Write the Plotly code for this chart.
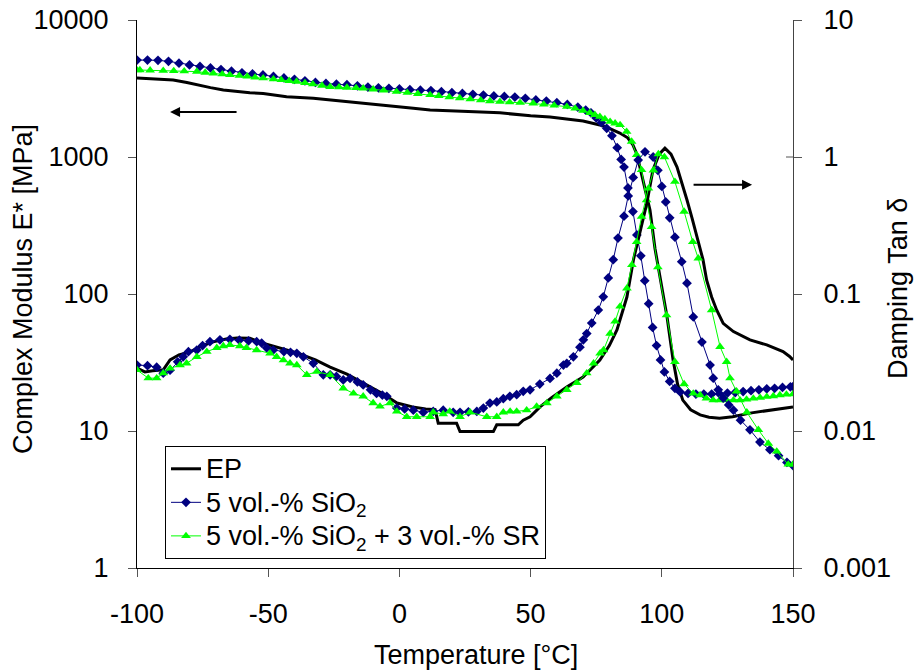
import math
import plotly.graph_objects as go

# ---------------- data ----------------
# EP: complex modulus [MPa]
ep_mod_T = [-100, -95, -90, -86.2, -81, -77.2, -72, -67.1, -62, -57, -51.9, -43, -32.8, -26.4, -20.1, -13.5,
            -7.4, 0, 5.3, 11.7, 25, 38.3, 50, 57.4, 70, 76.4, 80, 84, 87, 89, 90.5, 91.7, 93.5, 95.5,
            97.4, 100, 102, 104.3, 106, 108, 111, 114.6, 118, 122, 127, 133.6, 140, 145, 150]
ep_mod_v = [3775, 3740, 3700, 3650, 3500, 3357, 3210, 3085, 3000, 2950, 2910, 2750, 2680, 2610, 2535, 2470,
            2400, 2330, 2270, 2200, 2150, 2100, 2000, 1958, 1833, 1714, 1620, 1496, 1380, 1225, 1050,
            845, 620, 410, 215, 110, 68, 33, 22, 16.8, 14.3, 13.1, 12.6, 12.4, 12.7, 13.5, 14.0, 14.5, 15.0]

# EP: damping tan delta
ep_tan_T = [-100, -97, -94, -90, -87.4, -84, -79.8, -75, -71, -66, -61.9, -57, -52, -45, -39, -32, -26.4,
            -20, -13.9, -7, -0.9, 5, 10, 13.6, 14.8, 21.8, 23.1, 35.8, 37.1, 45.3, 47.2, 49.8, 53.6, 58,
            63.9, 70, 76.4, 80, 82.9, 86.7, 89.2, 91.7, 94.3, 96.6, 99, 101.2, 103.5, 105.8, 107.7, 109.6,
            111.5, 113.4, 115.7, 117.1, 119, 120.9, 123.4, 127.3, 133.6, 140, 146.2, 148.7, 150]
ep_tan_v = [0.0288, 0.027, 0.0275, 0.028, 0.033, 0.036, 0.0378, 0.042, 0.0447, 0.047, 0.0478, 0.0475,
            0.0438, 0.040, 0.0371, 0.033, 0.0293, 0.026, 0.0224, 0.019, 0.016, 0.015, 0.0145, 0.0143,
            0.0114, 0.0114, 0.0099, 0.0099, 0.0111, 0.0111, 0.012, 0.0127, 0.015, 0.0175, 0.021, 0.0248,
            0.033, 0.042, 0.0546, 0.095, 0.178, 0.277, 0.46, 0.80, 1.05, 1.16, 1.05, 0.845, 0.65, 0.485,
            0.36, 0.26, 0.178, 0.126, 0.095, 0.0764, 0.061, 0.0532, 0.0463, 0.0425, 0.038, 0.035, 0.033]

# 5 vol.-% SiO2: complex modulus [MPa]
si_mod_T = [-100, -96, -92, -88, -84, -80, -76, -72, -68, -64, -60, -56, -52, -48, -44, -40, -36, -32,
            -28, -24, -20, -16, -12, -8, -4, 0, 4, 8, 12, 16, 20, 24, 28, 32, 36, 40, 44, 48, 52, 56, 60,
            64, 68, 71, 73, 75, 77, 79, 81, 83, 84.5, 85.6, 87.1, 89, 90.5, 92, 93.5, 95, 96.5, 98, 99.5,
            101, 103, 105, 107, 110, 113, 116, 119, 122, 125, 128, 131, 134, 137, 140, 143, 146, 149, 150]
si_mod_v = [5100, 5100, 5080, 4990, 4840, 4700, 4580, 4470, 4350, 4230, 4120, 4040, 3970, 3870, 3780,
            3690, 3600, 3500, 3440, 3400, 3370, 3310, 3240, 3200, 3170, 3140, 3100, 3075, 3055, 3000,
            2950, 2910, 2870, 2830, 2790, 2770, 2740, 2680, 2610, 2560, 2490, 2420, 2310, 2200, 2100,
            1930, 1780, 1620, 1430, 1170, 960, 845, 594, 400, 270, 190, 125, 85, 57, 42, 33, 27, 23,
            20.5, 19.3, 18.8, 18.6, 18.6, 18.6, 18.7, 18.9, 19.1, 19.4, 19.7, 20.0, 20.3, 20.5, 20.8,
            21.0, 21.1]

# 5 vol.-% SiO2: damping tan delta
si_tan_T = [-100, -96, -92.5, -90, -87.4, -84.5, -82.4, -80.4, -77.2, -75, -72.2, -68.4, -64.6, -61,
            -57.5, -54.4, -52.5, -50.6, -48.1, -44, -41.5, -39.1, -36.6, -32.8, -29, -26.4, -24, -21.4,
            -18.8, -16, -13.8, -11, -8.7, -6.5, -4.8, -1, 2, 5.3, 9.1, 12.9, 16.7, 20.5, 23.1, 26.3, 29.5,
            32, 34.5, 37.1, 39.6, 42.1, 44.7, 47.2, 49.8, 53.5, 57.4, 60, 62.5, 63.8, 66.3, 68.8, 70.1,
            71.4, 73.3, 75.8, 77.7, 79.6, 81.5, 83.3, 85.6, 87.2, 89.1, 91, 93.6, 96.7, 98.5, 100, 101.5,
            103, 105, 107.6, 109.6, 112, 115.3, 118.4, 119.6, 121.5, 123.4, 125.5, 127.3, 130, 133.6,
            137.4, 141.2, 144.5, 147.7, 150]
si_tan_v = [0.0303, 0.030, 0.0292, 0.0264, 0.0278, 0.032, 0.0348, 0.0379, 0.039, 0.042, 0.0449, 0.0463,
            0.0467, 0.046, 0.0455, 0.0449, 0.0438, 0.0405, 0.039, 0.038, 0.0375, 0.0369, 0.0348, 0.0312,
            0.0257, 0.0257, 0.025, 0.0236, 0.0242, 0.0228, 0.0217, 0.020, 0.0188, 0.0183, 0.0179, 0.0147,
            0.0145, 0.0142, 0.0137, 0.0139, 0.0142, 0.0137, 0.0137, 0.0138, 0.0139, 0.0147, 0.0160,
            0.0163, 0.0172, 0.0179, 0.0184, 0.0195, 0.0200, 0.022, 0.0242, 0.0264, 0.0303, 0.0312,
            0.0348, 0.0409, 0.0463, 0.0514, 0.0614, 0.0764, 0.0953, 0.131, 0.178, 0.256, 0.37, 0.52,
            0.71, 0.95, 1.09, 1.0, 0.80, 0.61, 0.47, 0.36, 0.26, 0.172, 0.12, 0.068, 0.0446, 0.0303,
            0.0243, 0.020, 0.0174, 0.0155, 0.0142, 0.012, 0.0102, 0.0083, 0.0073, 0.0066, 0.0059, 0.0056]

# 5 vol.-% SiO2 + 3 vol.-% SR: complex modulus [MPa]
sr_mod_T = [-100, -98.9, -95, -90, -86, -82, -77.2, -74, -70.9, -67.5, -64.6, -61, -58, -55, -51.9, -48,
            -45, -42, -39.2, -36, -33, -29.5, -26.4, -23, -20, -16.5, -13.8, -10, -6, -1.1, 3, 7, 11.7,
            15, 19, 23, 27, 31, 34.5, 38.3, 42, 46, 51, 55, 59, 63.8, 67, 70, 72.6, 74.5, 76.4, 78.3,
            80.3, 82.2, 84.1, 86.6, 88.5, 90.4, 92.3, 94.2, 96.1, 98.5, 101.8, 105, 108.5, 112, 114.6,
            117, 119.6, 122, 124.7, 127.3, 129.8, 132.3, 134.9, 137.5, 140, 142.5, 145, 147.5, 150]
sr_mod_v = [4300, 4315, 4290, 4270, 4250, 4230, 4200, 4130, 4075, 4020, 3975, 3920, 3870, 3810, 3760,
            3700, 3650, 3600, 3550, 3470, 3400, 3320, 3255, 3230, 3210, 3190, 3170, 3120, 3060, 3000,
            2950, 2890, 2840, 2790, 2740, 2690, 2640, 2600, 2560, 2535, 2510, 2490, 2466, 2420, 2380,
            2330, 2260, 2180, 2100, 2030, 1968, 1890, 1810, 1760, 1714, 1530, 1295, 1035, 804, 485, 309,
            157, 70, 32, 22, 18.8, 18.3, 17.3, 16.8, 16.8, 16.8, 16.8, 16.8, 17.0, 17.3, 17.5, 17.8,
            18.0, 18.3, 18.5, 18.6]

# 5 vol.-% SiO2 + 3 vol.-% SR: damping tan delta
sr_tan_T = [-100, -95.7, -92.5, -90, -87.4, -83.6, -81.1, -77.2, -73.4, -69.6, -67.1, -64.6, -60.8, -58.3,
            -54.4, -49.3, -46.8, -44.2, -41.7, -39.1, -35.3, -31.5, -26.4, -21.4, -17.5, -13.8, -10, -7.4,
            -3.6, -1, 2.8, 6.6, 11.7, 12.9, 16.7, 19.2, 23.1, 26.9, 33.3, 37.1, 39.6, 42.2, 44.7, 48.5,
            52.3, 56.2, 60, 63.8, 67.6, 71.4, 74, 76.5, 77.8, 80.3, 82.2, 84.1, 86.7, 88.6, 90.4, 92.3,
            94.9, 96.8, 98.7, 101, 105, 108.5, 111.8, 113.9, 119, 122.2, 124.7, 126, 128.5, 132.4, 136.8,
            140.6, 143.8, 148.2, 150]
sr_tan_v = [0.0279, 0.0243, 0.0243, 0.0264, 0.0286, 0.0303, 0.0312, 0.0348, 0.0379, 0.0405, 0.0417,
            0.0425, 0.0417, 0.0405, 0.039, 0.0369, 0.0348, 0.0329, 0.0312, 0.0303, 0.0257, 0.0271, 0.0257,
            0.0205, 0.0188, 0.0179, 0.016, 0.0151, 0.016, 0.0139, 0.0127, 0.0127, 0.0127, 0.0137, 0.0133,
            0.0139, 0.0127, 0.0137, 0.0127, 0.0127, 0.0137, 0.0139, 0.0139, 0.0142, 0.0151, 0.016, 0.0179,
            0.020, 0.0225, 0.0264, 0.0312, 0.0369, 0.039, 0.0514, 0.063, 0.0812, 0.110, 0.163, 0.24,
            0.367, 0.59, 0.80, 1.05, 1.0, 0.66, 0.40, 0.24, 0.182, 0.0764, 0.0412, 0.032, 0.0243, 0.0195,
            0.0137, 0.0102, 0.0081, 0.0071, 0.0057, 0.0057]

x_ticks = [-100, -50, 0, 50, 100, 150]
x_ticktext = ["-100", "-50", "0", "50", "100", "150"]
y_ticks = [1, 10, 100, 1000, 10000]
y_ticktext = ["1", "10", "100", "1000", "10000"]
y2_ticks = [0.001, 0.01, 0.1, 1, 10]
y2_ticktext = ["0.001", "0.01", "0.1", "1", "10"]

names = ["EP", "5 vol.-% SiO<sub>2</sub>", "5 vol.-% SiO<sub>2</sub> + 3 vol.-% SR"]
x_title = "Temperature [°C]"
y_title = "Complex Modulus E* [MPa]"
y2_title = "Damping Tan δ"

# ---------------- figure ----------------
FONT = "Liberation Sans, Arial, sans-serif"
FS = 27

fig = go.Figure()

styles = [
    dict(mode="lines", line=dict(color="black", width=3)),
    dict(mode="lines+markers", line=dict(color="#000080", width=1),
         marker=dict(symbol="diamond", size=7.5, color="#000080")),
    dict(mode="lines+markers", line=dict(color="#00FF00", width=1),
         marker=dict(symbol="triangle-up", size=8.5, color="#00FF00")),
]
series = [
    (ep_mod_T, ep_mod_v, ep_tan_T, ep_tan_v),
    (si_mod_T, si_mod_v, si_tan_T, si_tan_v),
    (sr_mod_T, sr_mod_v, sr_tan_T, sr_tan_v),
]

for i, (mT, mv, tT, tv) in enumerate(series):
    label = '<span style="font-size:27px">' + names[i] + '</span>'
    fig.add_trace(go.Scatter(x=mT, y=mv, name=label, showlegend=True, yaxis="y", **styles[i]))
for i, (mT, mv, tT, tv) in enumerate(series):
    fig.add_trace(go.Scatter(x=tT, y=tv, name=names[i], showlegend=False, yaxis="y2", **styles[i]))

axis_common = dict(showgrid=False, zeroline=False, showline=True, linecolor="black", linewidth=1,
                   ticks="outside", ticklen=8, tickcolor="#555555", automargin=False,
                   tickfont=dict(family=FONT, size=FS, color="black"))

fig.update_layout(
    width=917, height=671,
    margin=dict(l=137, r=124, t=20, b=103, autoexpand=False),
    paper_bgcolor="white", plot_bgcolor="white",
    font=dict(family=FONT, size=FS, color="black"),
    xaxis=dict(range=[-100, 150], tickvals=x_ticks, ticktext=x_ticktext, ticklabelstandoff=14,
               **axis_common),
    yaxis=dict(type="log", range=[0, 4], tickvals=y_ticks, ticktext=y_ticktext, ticklabelstandoff=14,
               **axis_common),
    yaxis2=dict(type="log", range=[-3, 1], tickvals=y2_ticks, ticktext=y2_ticktext, overlaying="y",
                side="right", ticklabelstandoff=16,
                **{**axis_common, "linecolor": "#444444"}),
    legend=dict(x=0.0427, y=0.2226, xanchor="left", yanchor="top", bgcolor="white",
                bordercolor="black", borderwidth=1, font=dict(family=FONT, size=23.5),
                tracegroupgap=0, itemwidth=30),
    showlegend=True,
)

# axis titles
fig.add_annotation(text=y_title, xref="paper", yref="paper", x=-0.1738, y=0.509, textangle=-90,
                   showarrow=False, xanchor="center", yanchor="middle", font=dict(family=FONT, size=FS))
fig.add_annotation(text=y2_title, xref="paper", yref="paper", x=1.160, y=0.511, textangle=-90,
                   showarrow=False, xanchor="center", yanchor="middle", font=dict(family=FONT, size=FS))
fig.add_annotation(text=x_title, xref="paper", yref="paper", x=0.5168, y=-0.1588,
                   showarrow=False, xanchor="center", yanchor="middle", font=dict(family=FONT, size=FS))

# inner halves of the crossing ticks on the right axis
for v in y2_ticks:
    fig.add_shape(type="line", xref="paper", yref="y2", x0=1 - 7 / 656, x1=1,
                  y0=math.log10(v), y1=math.log10(v), line=dict(color="#555555", width=1))

# arrows pointing to the respective axes
fig.add_annotation(x=-87.4, y=3.328, xref="x", yref="y", ax=68, ay=0, text="", showarrow=True,
                   arrowhead=2, arrowsize=1, arrowwidth=2, arrowcolor="black")
fig.add_annotation(x=134.4, y=2.797, xref="x", yref="y", ax=-60, ay=0, text="", showarrow=True,
                   arrowhead=2, arrowsize=1, arrowwidth=2, arrowcolor="black")

fig.write_html("out.html")
